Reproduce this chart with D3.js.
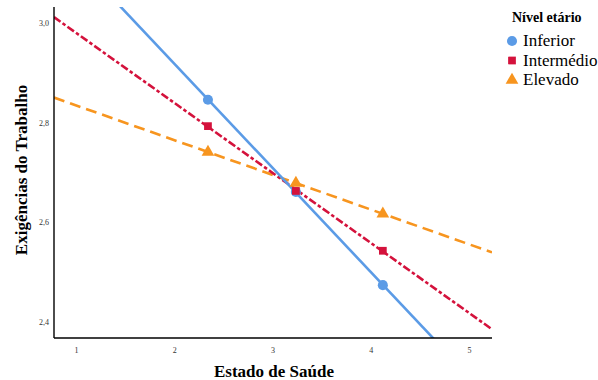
<!DOCTYPE html>
<html>
<head>
<meta charset="utf-8">
<script src="https://d3js.org/d3.v7.min.js"></script>
<style>
  body { margin: 0; background: #fff; }
</style>
</head>
<body>
<svg width="598" height="380" font-family="Liberation Serif"></svg>
<script>
// categories and values
const groups = ["Inferior", "Intermédio", "Elevado"];
const xPoints = [2.343, 3.238, 4.123];
const inferior = [2.846, 2.661, 2.474];
const intermedio = [2.793, 2.663, 2.543];
const elevado = [2.741, 2.679, 2.617];
const xTicks = [1, 2, 3, 4, 5];
const yTicks = [2.4, 2.6, 2.8, 3.0];

const series = [
  {name: groups[0], values: inferior, color: "#5b9be6", dash: null, shape: d3.symbolCircle, size: 80},
  {name: groups[1], values: intermedio, color: "#d4123c", dash: "8,2.5,3.5,2.5", shape: d3.symbolSquare, size: 60},
  {name: groups[2], values: elevado, color: "#f7951f", dash: "11,6", shape: d3.symbolTriangle, size: 70}
];

const serif = "Liberation Serif";
const svg = d3.select("svg");
const margin = {left: 54, right: 106, top: 7, bottom: 42};
const width = 598, height = 380;

const x = d3.scaleLinear().domain([0.776, 5.234]).range([margin.left, width - margin.right]);
const y = d3.scaleLinear().domain([2.368, 3.032]).range([height - margin.bottom, margin.top]);

svg.append("clipPath").attr("id", "plot")
  .append("rect")
  .attr("x", margin.left).attr("y", margin.top)
  .attr("width", x.range()[1] - margin.left)
  .attr("height", y.range()[0] - margin.top);

// least squares fit through the three group means
function fit(vals) {
  const mx = d3.mean(xPoints), my = d3.mean(vals);
  let num = 0, den = 0;
  xPoints.forEach((xv, i) => { num += (xv - mx) * (vals[i] - my); den += (xv - mx) ** 2; });
  const b = num / den;
  return xv => my + b * (xv - mx);
}

const g = svg.append("g").attr("clip-path", "url(#plot)");
series.slice().reverse().forEach(s => {
  const f = fit(s.values);
  const d0 = x.domain();
  g.append("line")
    .attr("x1", x(d0[0])).attr("y1", y(f(d0[0])))
    .attr("x2", x(d0[1])).attr("y2", y(f(d0[1])))
    .attr("stroke", s.color)
    .attr("stroke-width", 2.6)
    .attr("stroke-dasharray", s.dash);
});
series.forEach(s => {
  g.selectAll(null).data(s.values).enter().append("path")
    .attr("d", d3.symbol().type(s.shape).size(s.size))
    .attr("transform", (v, i) => `translate(${x(xPoints[i])},${y(v)})`)
    .attr("fill", s.color);
});

// axes
const fmt = d3.format(".1f");
svg.append("g")
  .attr("transform", `translate(0,${height - margin.bottom})`)
  .call(d3.axisBottom(x).tickValues(xTicks).tickSize(0).tickPadding(9).tickFormat(d3.format("d")))
  .call(a => a.select(".domain").attr("d", `M${margin.left},0H${x.range()[1]}`).attr("stroke", "#000").attr("stroke-width", 1.4))
  .call(a => a.selectAll("text").attr("font-family", serif).attr("font-size", 8).attr("fill", "#333"));

svg.append("g")
  .attr("transform", `translate(${margin.left},0)`)
  .call(d3.axisLeft(y).tickValues(yTicks).tickSize(0).tickPadding(5).tickFormat(v => fmt(v).replace(".", ",")))
  .call(a => a.select(".domain").attr("d", `M0,${margin.top}V${y.range()[0]}`).attr("stroke", "#000").attr("stroke-width", 1.4))
  .call(a => a.selectAll("text").attr("font-family", serif).attr("font-size", 8).attr("fill", "#333"));

svg.append("text")
  .attr("x", 274).attr("y", 377)
  .attr("text-anchor", "middle")
  .attr("font-family", serif)
  .attr("font-size", 17).attr("font-weight", "bold")
  .text("Estado de Saúde");

svg.append("text")
  .attr("transform", "translate(27,170) rotate(-90)")
  .attr("text-anchor", "middle")
  .attr("font-family", serif)
  .attr("font-size", 17).attr("font-weight", "bold")
  .text("Exigências do Trabalho");

// legend
const leg = svg.append("g").attr("transform", "translate(512,0)");
leg.append("text").attr("x", 0).attr("y", 22)
  .attr("font-family", serif)
  .attr("font-size", 14).attr("font-weight", "bold").text("Nível etário");
series.forEach((s, i) => {
  const yy = 41 + i * 19.5;
  leg.append("path")
    .attr("d", d3.symbol().type(s.shape).size(s.size))
    .attr("transform", `translate(0,${yy})`)
    .attr("fill", s.color);
  leg.append("text").attr("x", 11).attr("y", yy + 5)
    .attr("font-family", serif)
    .attr("font-size", 17).text(s.name);
});
</script>
</body>
</html>
